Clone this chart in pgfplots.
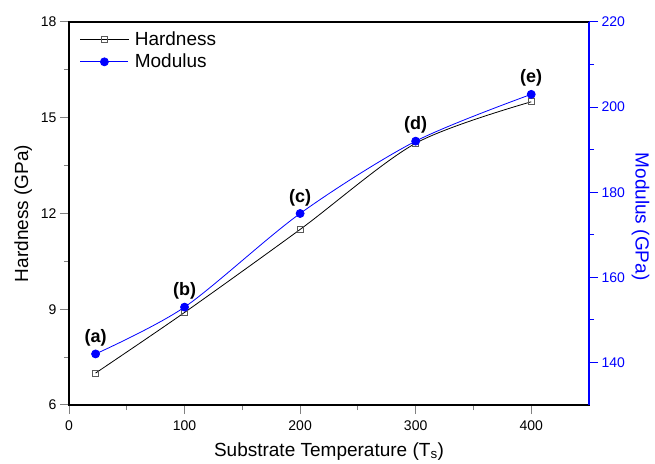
\documentclass[border=0pt]{standalone}
\usepackage{pgfplots}
\pgfplotsset{compat=1.18}
\usepackage{fontspec}
\setmainfont{Liberation Sans}
\definecolor{modblue}{RGB}{0,0,255}

\begin{document}
\begin{tikzpicture}
\pgfplotsset{
  common/.style={
    width=520pt, height=383pt, scale only axis,
    xmin=0, xmax=450,
    tick align=outside,
    major tick length=9pt, minor tick length=5pt,
    /pgf/number format/assume math mode=true,
    tick label style={font=\fontsize{14}{16}\selectfont},
    label style={font=\fontsize{19}{22}\selectfont},
  }
}
% Left axis: hardness
\begin{axis}[common,
  ymin=6, ymax=18, ytick={6,9,12,15,18}, minor y tick num=1,
  xtick={0,100,200,300,400}, minor x tick num=1,
  xtick pos=bottom, ytick pos=left,
  xticklabel style={yshift=-3pt},
  xlabel={Substrate Temperature (T\textsubscript{s})},
  xlabel style={yshift=-5pt},
  ylabel={Hardness (GPa)},
  ylabel style={yshift=2pt},
  axis line style={line width=1.2pt},
  tick style={line width=1pt},
  legend style={draw=none, fill=none, at={(0.015,0.985)}, anchor=north west,
    font=\fontsize{19}{22}\selectfont, row sep=3pt},
  legend image code/.code={\draw[mark repeat=2, mark phase=2, #1]
    plot coordinates {(0pt,0pt) (24pt,0pt) (48pt,0pt)};
    \path (52pt,0pt);},
  legend cell align=left,
]
\addplot[black, line width=0.8pt, smooth,
  mark=square, mark size=3pt,
  mark options={draw=gray!70!black, fill=white, line width=0.7pt}]
  coordinates {(23,7.0) (100,8.9) (200,11.5) (300,14.2) (400,15.5)};
\addlegendentry{Hardness}
\addlegendimage{modblue, line width=0.8pt, mark=*, mark size=4pt}
\addlegendentry{Modulus}
\end{axis}
% Right axis: modulus
\begin{axis}[common,
  axis y line*=right, axis x line=none,
  ymin=130, ymax=220, ytick={140,160,180,200,220}, minor y tick num=1,
  ylabel={Modulus (GPa)}, ylabel style={rotate=180, color=modblue, xshift=3pt},
  y axis line style={modblue, line width=1.2pt},
  ytick style={modblue, line width=1pt},
  yticklabel style={color=modblue},
]
\addplot[modblue, line width=0.8pt, smooth, mark=*, mark size=4pt,
  point meta=explicit symbolic,
  nodes near coords={\textbf{(\pgfplotspointmeta)}},
  nodes near coords style={black, font=\fontsize{18}{20}\selectfont, anchor=south, yshift=4pt}]
  table[meta=lab] {
x   y   lab
23  142 a
100 153 b
200 175 c
300 192 d
400 203 e
};
\end{axis}
\path (-69pt,-55pt) rectangle (586pt,405pt);
\end{tikzpicture}
\end{document}
